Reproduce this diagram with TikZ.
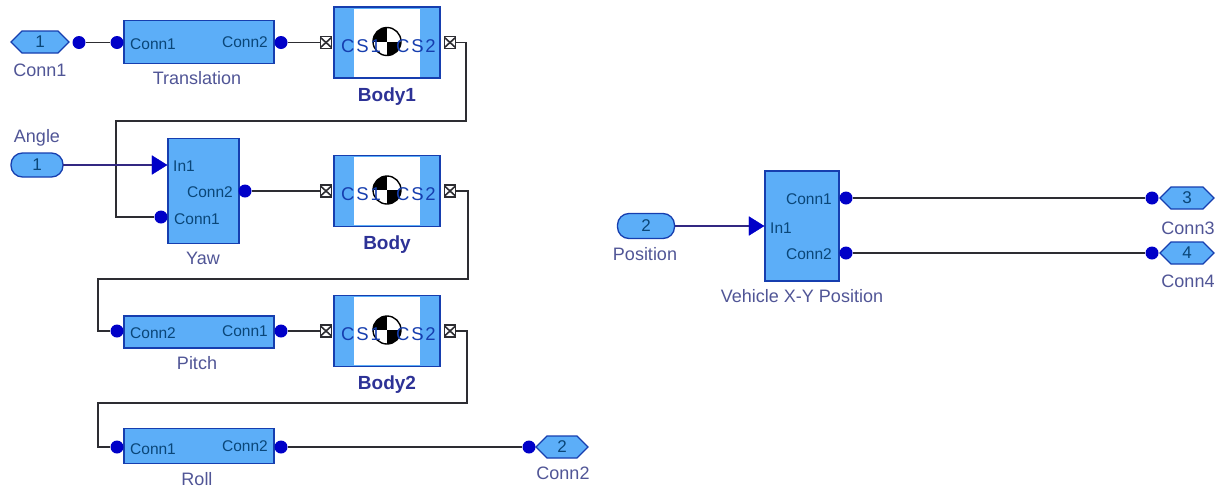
\documentclass[tikz,border=0pt]{standalone}
\usepackage{fontspec}
\setmainfont{Liberation Sans}
\usetikzlibrary{shapes.geometric,arrows.meta,calc}
\definecolor{blockfill}{RGB}{92,174,248}
\definecolor{blockedge}{RGB}{22,62,175}
\definecolor{dotblue}{RGB}{0,0,200}
\definecolor{inner}{RGB}{10,70,120}
\definecolor{lab}{RGB}{80,85,150}
\definecolor{bodylab}{RGB}{45,50,150}
\definecolor{wire}{RGB}{45,45,50}
\definecolor{sigwire}{RGB}{50,40,130}
\tikzset{
  x=1pt,y=-1pt,
  blockbox/.style={draw=blockedge,fill=blockfill,line width=1.3pt,inner sep=0,minimum width=#1},
  blockbox/.default=150,
  condot/.style={circle,minimum size=13pt,inner sep=0},
  pill/.style={draw=blockedge,fill=blockfill,line width=1.3pt,rounded corners=11.5pt,inner sep=0,font=\fontsize{17}{17}\selectfont,text=inner},
  portlab/.style={font=\fontsize{15.5}{15.5}\selectfont,text=inner,inner sep=0},
  caplab/.style={font=\fontsize{18}{18}\selectfont,text=lab,inner sep=0},
  bodycap/.style={font=\fontsize{19}{19}\selectfont\bfseries,text=bodylab,inner sep=0},
  cstext/.style={font=\fontsize{18.5}{19}\selectfont\addfontfeature{LetterSpace=10},text=blockedge,inner sep=0},
  wireline/.style={draw=wire,line width=1.4pt},
  sigline/.style={draw=sigwire,line width=1.4pt},
  porttip/.style={draw=wire,fill=white,line width=1.1pt,minimum width=11pt,minimum height=12pt,inner sep=0},
  arrowtip/.style={fill=dotblue,draw=dotblue,isosceles triangle,isosceles triangle apex angle=64,inner sep=0,minimum height=15pt,minimum width=15pt},
}
\newcommand{\hexnode}[5]{% name, cx, cy, halfw, text
  \path[draw=blockedge,fill=blockfill,line width=1.3pt]
    (#2-#4,#3) -- (#2-#4+11,#3-11) -- (#2+#4-11,#3-11) -- (#2+#4,#3) -- (#2+#4-11,#3+11) -- (#2-#4+11,#3+11) -- cycle;
  \node[font=\fontsize{17}{17}\selectfont,text=inner,inner sep=0] (#1) at (#2,#3) {#5};
}
\newcommand{\bodyblock}[3]{% name, cy, caption
  \node[draw=blockedge,fill=blockfill,line width=1.5pt,minimum width=106pt,minimum height=71pt,inner sep=0] (#1) at (387,#2) {};
  \fill[white] (354,#2-34) rectangle (420,#2+34);
  \begin{scope}
    \clip (387,#2-1) circle (14);
    \fill[black] (373,#2-15) rectangle (387,#2-1);
    \fill[black] (387,#2-1) rectangle (401,#2+13);
  \end{scope}
  \draw[black,line width=1.4pt] (387,#2-1) circle (14);
  \node[cstext,anchor=west] at (341,#2+3.5) {CS1};
  \node[cstext,anchor=east] at (436,#2+3.5) {CS2};
  \node[porttip] (#1L) at (326,#2) {};
  \node[porttip] (#1R) at (450,#2) {};
  \draw[wire,line width=1.6pt] (320.5,#2-5) -- (331.5,#2+5) (320.5,#2+5) -- (331.5,#2-5);
  \draw[wire,line width=1.6pt] (444.5,#2-5) -- (455.5,#2+5) (444.5,#2+5) -- (455.5,#2-5);
  \node[bodycap] at (387,#2+54) {#3};
}
\begin{document}
\begin{tikzpicture}
\useasboundingbox (0,0) rectangle (1221,488);
% ---- blocks
\node[blockbox=150,minimum height=43pt] (trans) at (199,42) {};
\node[blockbox=71,minimum height=105pt] (yaw) at (203.5,191) {};
\node[blockbox=150,minimum height=32pt] (pitch) at (199,332) {};
\node[blockbox=150,minimum height=35pt] (roll) at (199,446) {};
\node[blockbox=74,minimum height=110pt] (veh) at (802,226) {};
\bodyblock{bodyA}{42.5}{Body1}
\bodyblock{bodyB}{191}{Body}
\bodyblock{bodyC}{331}{Body2}
% ---- terminals
\hexnode{hA}{40}{42}{29}{1}
\hexnode{hB}{562}{447}{26}{2}
\hexnode{hC}{1187}{198}{27}{3}
\hexnode{hD}{1187}{253}{27}{4}
\node[pill,minimum width=52pt,minimum height=24pt] (angle) at (37,165) {1};
\node[pill,minimum width=57pt,minimum height=25pt] (pos) at (646,226) {2};
% ---- dots
\node[condot] (dA) at (79,42.5) {};
\node[condot] (tL) at (117,42.5) {};
\node[condot] (tR) at (281,42.5) {};
\node[condot] (yL) at (161,217) {};
\node[condot] (yR) at (245,191) {};
\node[condot] (pL) at (117,331) {};
\node[condot] (pR) at (281,331) {};
\node[condot] (rL) at (117,447) {};
\node[condot] (rR) at (281,447) {};
\node[condot] (dB) at (529,447) {};
\node[condot] (vA) at (846,198) {};
\node[condot] (vB) at (846,253) {};
\node[condot] (dC) at (1152,198) {};
\node[condot] (dD) at (1152,253) {};
% ---- wire bend points
\coordinate (b1a) at (466,42.5);
\coordinate (b1b) at (466,121);
\coordinate (b1c) at (116,121);
\coordinate (b1d) at (116,217);
\coordinate (b2a) at (468,191);
\coordinate (b2b) at (468,279);
\coordinate (b2c) at (98,279);
\coordinate (b2d) at (98,331);
\coordinate (b3a) at (467,331);
\coordinate (b3b) at (467,403);
\coordinate (b3c) at (98,403);
\coordinate (b3d) at (98,447);
% ---- wires
\draw[wireline] (dA) -- (tL);
\draw[wireline] (tR) -- (bodyAL);
\draw[wireline] (bodyAR.east) -- (b1a) -- (b1b) -- (b1c) -- (b1d) -- (yL);
\draw[wireline] (yR) -- (bodyBL);
\draw[wireline] (bodyBR.east) -- (b2a) -- (b2b) -- (b2c) -- (b2d) -- (pL);
\draw[wireline] (pR) -- (bodyCL);
\draw[wireline] (bodyCR.east) -- (b3a) -- (b3b) -- (b3c) -- (b3d) -- (rL);
\draw[wireline] (rR) -- (dB);
\draw[wireline] (vA) -- (dC);
\draw[wireline] (vB) -- (dD);
\node[arrowtip,anchor=apex] (aY) at (yaw.west |- angle) {};
\draw[sigline] (angle) ++(26,0) -- (aY.lower side |- angle);
\node[arrowtip,anchor=apex] (aV) at (veh.west |- pos) {};
\draw[sigline] (pos) ++(28.5,0) -- (aV.lower side |- pos);
% ---- dots on top of wires
\foreach \d in {dA,tL,tR,yL,yR,pL,pR,rL,rR,dB,vA,vB,dC,dD}{\fill[dotblue] (\d) circle (6.5);}
% ---- port text
\node[portlab,anchor=west] at (130,44) {Conn1};
\node[portlab,anchor=east] at (268,42) {Conn2};
\node[portlab,anchor=west] at (173,166) {In1};
\node[portlab,anchor=east] at (233,192) {Conn2};
\node[portlab,anchor=west] at (174,219) {Conn1};
\node[portlab,anchor=west] at (130,333) {Conn2};
\node[portlab,anchor=east] at (268,331) {Conn1};
\node[portlab,anchor=west] at (130,449) {Conn1};
\node[portlab,anchor=east] at (268,446) {Conn2};
\node[portlab,anchor=east] at (832,199) {Conn1};
\node[portlab,anchor=west] at (770,228) {In1};
\node[portlab,anchor=east] at (832,254) {Conn2};
% ---- captions
\node[caplab] at (40,70) {Conn1};
\node[caplab] at (197,78) {Translation};
\node[caplab] at (37,138) {Angle};
\node[caplab] at (203,258) {Yaw};
\node[caplab] at (197,363) {Pitch};
\node[caplab] at (197,479) {Roll};
\node[caplab] at (563,473) {Conn2};
\node[caplab] at (645,254) {Position};
\node[caplab] at (802,296) {Vehicle X-Y Position};
\node[caplab] at (1188,228) {Conn3};
\node[caplab] at (1188,281) {Conn4};
\end{tikzpicture}
\end{document}
